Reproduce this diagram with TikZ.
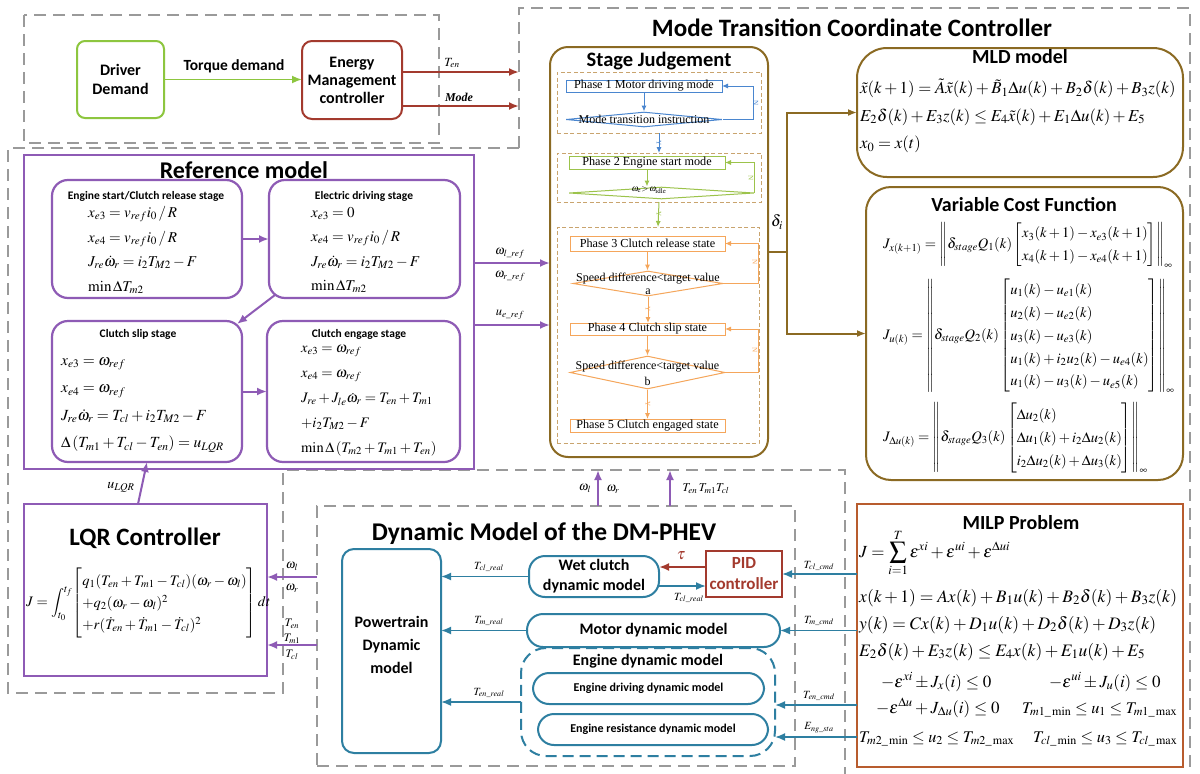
\documentclass[tikz,border=0pt]{standalone}
\usepackage{amsmath}
\usepackage{mathptmx}
\usepackage[no-math]{fontspec}
\setmainfont{Liberation Serif}
\newfontfamily\cf{Carlito}
\usetikzlibrary{arrows.meta,shapes.geometric,fit,calc}
\newcommand\FSz[2]{\fontsize{#1}{#2}\selectfont}
\definecolor{cgreen}{HTML}{8DC63F}
\definecolor{cred}{HTML}{A33A2E}
\definecolor{cpurple}{HTML}{8E5BB5}
\definecolor{cbrown}{HTML}{8B6A23}
\definecolor{cteal}{HTML}{2E7FA1}
\definecolor{cmilp}{HTML}{B85C2E}
\definecolor{cblue}{HTML}{4A86CF}
\definecolor{cphgreen}{HTML}{9CC34B}
\definecolor{cphor}{HTML}{F5A65B}
\definecolor{cdash}{HTML}{9A9A9A}
\definecolor{cgroup}{HTML}{C9A46E}
\tikzset{
 gdash/.style={draw=cdash,line width=1.8pt,dash pattern=on 12pt off 7pt},
 fbox/.style={inner sep=0pt,outer sep=0pt},
 ttl/.style={font=\cf\bfseries\FSz{#1}{#1}, anchor=base, inner sep=0pt},
 sub/.style={font=\cf\bfseries\FSz{11.5}{13}, anchor=base, inner sep=0pt},
 lbl/.style={font=\FSz{12.5}{14}, inner sep=1pt},
 pbox/.style={fbox, draw=cpurple, line width=2.2pt, rounded corners=16pt},
 parrow/.style={draw=cpurple, line width=2pt, -{Latex[length=10pt,width=8pt]}},
 brline/.style={draw=cbrown, line width=2pt},
 brarrow/.style={draw=cbrown, line width=2pt, -{Latex[length=9pt,width=7pt]}},
 tarrow/.style={draw=cteal, line width=1.8pt, -{Latex[length=10pt,width=8pt]}},
 tbox/.style={fbox, draw=cteal, line width=2pt, rounded corners=16pt},
 ttxt/.style={inner sep=0pt, font=\cf\bfseries\FSz{16}{20}, align=center},
 grp/.style={fbox, draw=cgroup, line width=0.9pt, dash pattern=on 4pt off 2.5pt},
 phb/.style={fbox, line width=1pt},
 phtxt/.style={font=\FSz{12.2}{13}, inner sep=0pt},
 dia/.style={diamond, line width=1pt, inner sep=0pt},
 thin/.style={line width=1pt, -{Latex[length=6pt,width=5pt]}},
 yn/.style={font=\FSz{7}{8}, inner sep=0pt, rotate=-90},
 eqs/.style={anchor=west, align=left, inner sep=0pt},
 meq/.style={anchor=base west, inner sep=0pt, font=\FSz{17.5}{20}}
}
\begin{document}
\begin{tikzpicture}[x=1pt,y=-1pt]
\useasboundingbox[fill=white] (0,0) rectangle (1200,774);

% ---------- grey dashed frames ----------
\draw[gdash] (24,15) rectangle (439,143);
\draw[gdash] (519,148) -- (519,8) -- (1190,8) -- (1190,774);
\draw[gdash] (519,148) -- (8,148) -- (8,693) -- (283,693) -- (283,470) -- (845,470) -- (845,774);
\node[fit={(317,506)(795,766)}, fbox, gdash] (DYN) {};

\node[ttl=25] (MTCCt) at (852,36) {Mode Transition Coordinate Controller};

% ---------- driver / EMS ----------
\node[fit={(77,41)(164,118)}, fbox, draw=cgreen, line width=2pt, rounded corners=8pt] (DD) {};
\node[inner sep=0pt, font=\cf\bfseries\FSz{16}{19}, align=center] (DDt) at (DD) {Driver\\Demand};
\node[fit={(302,41)(402,119)}, fbox, draw=cred, line width=2pt, rounded corners=10pt] (EMS) {};
\node[inner sep=0pt, font=\cf\bfseries\FSz{16}{18}, align=center] (EMSt) at (EMS) {Energy\\Management\\controller};
\draw[draw=cgreen, line width=1.8pt, -{Latex[length=10pt,width=8pt]}, fill=cgreen]
     (DD.east) -- (DD.east -| EMS.west);
\node[font=\cf\bfseries\FSz{15.5}{18}] (TQ) at (234,66) {Torque demand};
\coordinate (ten) at (519,72);
\coordinate (tmode) at (519,106);
\draw[draw=cred, line width=2pt, -{Latex[length=10pt,width=8pt]}] (EMS.east |- ten) -- (ten);
\draw[draw=cred, line width=2pt, -{Latex[length=10pt,width=8pt]}] (EMS.east |- tmode) -- (tmode);
\node[lbl] (lten) at (452,63) {$T_{en}$};
\node[font=\bfseries\itshape\FSz{12}{14}] (lmode) at (459,97) {Mode};

% ---------- reference model ----------
\node[fit={(24,155)(474,469)}, fbox, draw=cpurple, line width=2.2pt] (REF) {};
\node[ttl=24] (REFt) at (244,178) {Reference model};
\node[fit={(52,180)(242,298)}, pbox] (S1) {};
\node[fit={(269,180)(460,298)}, pbox] (S2) {};
\node[fit={(52,321)(242,462)}, pbox] (S3) {};
\node[fit={(267,321)(460,462)}, pbox] (S4) {};
\node[sub] (S1t) at (146,199) {Engine start/Clutch release stage};
\node[sub] (S2t) at (364,199) {Electric driving stage};
\node[sub] (S3t) at (138,337) {Clutch slip stage};
\node[sub] (S4t) at (359,337) {Clutch engage stage};
\node[eqs, font=\FSz{15}{24.5}] (S1e) at (88,250) {%
 $x_{e3}=v_{ref}i_0\,/\,R$\\ $x_{e4}=v_{ref}i_0\,/\,R$\\ $J_{re}\dot{\omega}_r=i_2T_{M2}-F$\\ $\min\Delta T_{m2}$};
\node[eqs, font=\FSz{15}{24.5}] (S2e) at (311,250) {%
 $x_{e3}=0$\\ $x_{e4}=v_{ref}i_0\,/\,R$\\ $J_{re}\dot{\omega}_r=i_2T_{M2}-F$\\ $\min\Delta T_{m2}$};
\node[eqs, font=\FSz{15.5}{27.5}] (S3e) at (61,405) {%
 $x_{e3}=\omega_{ref}$\\ $x_{e4}=\omega_{ref}$\\ $J_{re}\dot{\omega}_r=T_{cl}+i_2T_{M2}-F$\\ $\Delta\left(T_{m1}+T_{cl}-T_{en}\right)=u_{LQR}$};
\node[eqs, font=\FSz{14.5}{25}] (S4e) at (301,401) {%
 $x_{e3}=\omega_{ref}$\\ $x_{e4}=\omega_{ref}$\\ $J_{re}+J_{le}\dot{\omega}_r=T_{en}+T_{m1}$\\ $+i_2T_{M2}-F$\\ $\min\Delta\left(T_{m2}+T_{m1}+T_{en}\right)$};
\draw[parrow] (S1.east) -- (S2.west);
\draw[parrow] ($(S2.south west)+(6,-3)$) -- ($(S3.north east)+(-5,3)$);
\draw[parrow] (S3.east) -- (S4.west);

% ---------- LQR ----------
\node[fit={(24,504)(267,676)}, fbox, draw=cpurple, line width=2.2pt] (LQR) {};
\node[ttl=25] (LQRt) at (145,545) {LQR Controller};
\node[anchor=west, inner sep=0pt, font=\FSz{14.5}{17}] (LQRe) at (26,603) {%
 \renewcommand{\arraystretch}{1.3}%
 $\displaystyle J=\int_{t_0}^{t_f}\!\left[\begin{array}{@{}l@{}}
 q_1(T_{en}+T_{m1}-T_{cl})(\omega_r-\omega_l)\\
 +q_2(\omega_r-\omega_l)^2\\
 +r(\dot{T}_{en}+\dot{T}_{m1}-\dot{T}_{cl})^2
 \end{array}\right]dt$};
\draw[parrow] ([xshift=-7.5pt]LQR.north) -- (S3.south);
\node[lbl, font=\FSz{14}{16}] (luq) at (121,487) {$u_{LQR}$};
\coordinate (li1) at (300,577);
\coordinate (li2) at (300,645);
\draw[parrow] (DYN.west |- li1) -- (LQR.east |- li1);
\draw[parrow] (DYN.west |- li2) -- (LQR.east |- li2);
\node[lbl] (lwl) at (292,566) {$\omega_l$};
\node[lbl] (lwr) at (292,588) {$\omega_r$};
\node[lbl, font=\FSz{11.5}{13}] (lte) at (292,624) {$T_{en}$};
\node[lbl, font=\FSz{11.5}{13}] (ltm) at (292,639) {$T_{m1}$};
\node[lbl, font=\FSz{11.5}{13}] (ltc) at (292,655) {$T_{cl}$};

% ---------- reference -> stage judgement ----------
\node[fit={(550,47)(768,457)}, fbox, draw=cbrown, line width=2pt, rounded corners=18pt] (SJ) {};
\coordinate (wref) at (500,263);
\coordinate (uref) at (500,325);
\draw[parrow] (REF.east |- wref) -- (SJ.west |- wref);
\draw[parrow] (REF.east |- uref) -- (SJ.west |- uref);
\node[lbl] (lw1) at (510,253) {$\omega_{l\_ref}$};
\node[lbl] (lw2) at (510,276) {$\omega_{r\_ref}$};
\node[lbl] (lue) at (510,315) {$u_{e\_ref}$};

% ---------- stage judgement ----------
\node[ttl=20.5] (SJt) at (659,66) {Stage Judgement};
\node[fit={(557,72)(761,133)}, grp] (G1) {};
\node[fit={(557,153)(761,202)}, grp] (G2) {};
\node[fit={(557,227)(759,443)}, grp] (G3) {};
\node[fit={(566,80)(722,92)}, phb, draw=cblue] (P1) {};
\node[phtxt] (P1t) at (P1) {Phase 1 Motor driving mode};
\node[dia, draw=cblue, minimum width=156pt, minimum height=15pt] (D1) at (644,119.5) {};
\node[phtxt, font=\FSz{12}{13}] (D1t) at (644,119) {Mode transition instruction};
\draw[thin, draw=cblue] (P1.south) -- (P1.south |- D1.north);
\draw[thin, draw=cblue] (D1.east) -- ++(31,0) |- (P1.east);
\node[yn, text=cblue] (N1) at (756,103) {N};
\draw[thin, draw=cblue] (G1.south) -- (G2.north);
\node[yn, text=cblue] (Y1) at (659,143) {Y};

\node[fit={(569,156)(725,169)}, phb, draw=cphgreen] (P2) {};
\node[phtxt] (P2t) at (P2) {Phase 2 Engine start mode};
\node[dia, draw=cphgreen, minimum width=185pt, minimum height=12pt] (D2) at (661.5,193) {};
\node[inner sep=0pt, font=\FSz{9}{10}] (D2t) at (649,190) {$\omega_{\mathrm{e}}{>}\,\omega_{\mathrm{idle}}$};
\draw[thin, draw=cphgreen] (P2.south) -- (P2.south |- D2.north);
\draw[thin, draw=cphgreen] (D2.east) |- (P2.east);
\node[yn, text=cphgreen] (N2) at (751,178) {N};
\draw[thin, draw=cphgreen] (G2.south) -- (G3.north);
\node[yn, text=cphgreen] (Y2) at (659,214) {Y};

\node[fit={(570,236)(725,251)}, phb, draw=cphor] (P3) {};
\node[phtxt] (P3t) at (P3) {Phase 3 Clutch release state};
\node[dia, draw=cphor, minimum width=150pt, minimum height=25pt] (D3) at (648,283.5) {};
\node[phtxt, font=\FSz{12}{13}] (D3t) at (648,278.5) {Speed difference<target value};
\node[phtxt, font=\FSz{12}{13}] (D3a) at (648,292) {a};
\draw[thin, draw=cphor] (P3.south) -- (P3.south |- D3.north);
\draw[thin, draw=cphor] (D3.east) -- ++(35,0) |- (P3.east);
\node[yn, text=cphor] (N3) at (755,262) {N};
\node[fit={(570,323)(725,335)}, phb, draw=cphor] (P4) {};
\node[phtxt] (P4t) at (P4) {Phase 4 Clutch slip state};
\draw[thin, draw=cphor] (D3.south) -- (D3.south |- P4.north);
\node[yn, text=cphor] (Y3) at (648,309) {Y};
\node[dia, draw=cphor, minimum width=155pt, minimum height=33pt] (D4) at (647.5,372.5) {};
\node[phtxt, font=\FSz{12}{13}] (D4t) at (647.5,366.5) {Speed difference<target value};
\node[phtxt, font=\FSz{12}{13}] (D4b) at (647.5,381) {b};
\draw[thin, draw=cphor] (P4.south) -- (P4.south |- D4.north);
\draw[thin, draw=cphor] (D4.east) -- ++(33,0) |- (P4.east);
\node[yn, text=cphor] (N4) at (755,350) {N};
\node[fit={(570,419)(725,432)}, phb, draw=cphor] (P5) {};
\node[phtxt] (P5t) at (P5) {Phase 5 Clutch engaged state};
\draw[thin, draw=cphor] (D4.south) -- (D4.south |- P5.north);
\node[yn, text=cphor] (Y4) at (648,404) {Y};

% ---------- MLD / VCF ----------
\node[fit={(857,48)(1183,177)}, fbox, draw=cbrown, line width=2pt, rounded corners=30pt] (MLD) {};
\node[ttl=20] (MLDt) at (1020,63) {MLD model};
\node[eqs, font=\FSz{16.8}{27.5}] (MLDe) at (860,116) {%
 $\tilde{x}(k+1)=\tilde{A}\tilde{x}(k)+\tilde{B}_1\Delta u(k)+B_2\delta(k)+B_3z(k)$\\
 $E_2\delta(k)+E_3z(k)\le E_4\tilde{x}(k)+E_1\Delta u(k)+E_5$\\
 $x_0=x(t)$};
\node[fit={(866,187)(1183,480)}, fbox, draw=cbrown, line width=2pt, rounded corners=25pt] (VCF) {};
\node[ttl=20] (VCFt) at (1024,211) {Variable Cost Function};
\node[eqs, font=\FSz{14.5}{17.5}] (VCF1) at (883,245) {%
 \renewcommand{\arraystretch}{1.3}%
 $J_{x(k+1)}=\left\|\delta_{stage}Q_1(k)\left[\begin{array}{@{}l@{}}x_3(k+1)-x_{e3}(k+1)\\ x_4(k+1)-x_{e4}(k+1)\end{array}\right]\right\|_\infty$};
\node[eqs, font=\FSz{14.5}{17.5}] (VCF2) at (883,336) {%
 \renewcommand{\arraystretch}{1.3}%
 $J_{u(k)}=\left\|\delta_{stage}Q_2(k)\left[\begin{array}{@{}l@{}}u_1(k)-u_{e1}(k)\\ u_2(k)-u_{e2}(k)\\ u_3(k)-u_{e3}(k)\\ u_1(k)+i_2u_2(k)-u_{e4}(k)\\ u_1(k)-u_3(k)-u_{e5}(k)\end{array}\right]\right\|_\infty$};
\node[eqs, font=\FSz{14.5}{17.5}] (VCF3) at (883,438) {%
 \renewcommand{\arraystretch}{1.3}%
 $J_{\Delta u(k)}=\left\|\delta_{stage}Q_3(k)\left[\begin{array}{@{}l@{}}\Delta u_2(k)\\ \Delta u_1(k)+i_2\Delta u_2(k)\\ i_2\Delta u_2(k)+\Delta u_3(k)\end{array}\right]\right\|_\infty$};
\coordinate (dj) at (787,252);
\draw[brline] (SJ.east) -- (dj);
\draw[brarrow] (dj) |- (MLD.west);
\draw[brarrow] (dj) |- (VCF.west);
\node[lbl, font=\FSz{16}{18}] (ldel) at (777,222) {$\delta_i$};

% ---------- stage inputs from dynamic model ----------
\coordinate (ua1) at (598,470);
\coordinate (ua2) at (670,470);
\draw[parrow] (DYN.north -| ua1) -- (ua1);
\draw[parrow] (DYN.north -| ua2) -- (ua2);
\node[lbl] (lo1) at (585,488) {$\omega_l$};
\node[lbl] (lo2) at (613,489) {$\omega_r$};
\node[lbl, font=\FSz{12}{14}] (lo3) at (706,489) {$T_{en}\,T_{m1}T_{cl}$};

% ---------- MILP ----------
\node[fit={(857,504)(1183,767)}, fbox, draw=cmilp, line width=2pt] (MILP) {};
\node[ttl=20] (MILPt) at (1021,529) {MILP Problem};
\node[anchor=west, inner sep=0pt, font=\FSz{17}{20}] (M1) at (859,553) {$\displaystyle J=\sum_{i=1}^{T}\varepsilon^{xi}+\varepsilon^{ui}+\varepsilon^{\Delta ui}$};
\node[meq] (M2) at (859,602) {$x(k+1)=Ax(k)+B_1u(k)+B_2\delta(k)+B_3z(k)$};
\node[meq] (M3) at (859,629) {$y(k)=Cx(k)+D_1u(k)+D_2\delta(k)+D_3z(k)$};
\node[meq] (M4) at (859,656) {$E_2\delta(k)+E_3z(k)\le E_4x(k)+E_1u(k)+E_5$};
\node[meq, font=\FSz{17}{20}] (M5a) at (881,687) {$-\varepsilon^{xi}\pm J_x(i)\le 0$};
\node[meq, font=\FSz{17}{20}] (M5b) at (1049,687) {$-\varepsilon^{ui}\pm J_u(i)\le 0$};
\node[meq, font=\FSz{17}{20}] (M6a) at (876,713) {$-\varepsilon^{\Delta u}+J_{\Delta u}(i)\le 0$};
\node[meq, font=\FSz{16.3}{20}] (M6b) at (1022,713) {$T_{m1\_\min}\le u_1\le T_{m1\_\max}$};
\node[meq, font=\FSz{16.3}{20}] (M7a) at (859,742) {$T_{m2\_\min}\le u_2\le T_{m2\_\max}$};
\node[meq, font=\FSz{16.3}{20}] (M7b) at (1033,742) {$T_{cl\_\min}\le u_3\le T_{cl\_\max}$};

% ---------- dynamic model ----------
\node[ttl=25.5] (DYNt) at (544,540) {Dynamic Model of the DM-PHEV};
\node[fit={(342,549)(441,753)}, tbox, rounded corners=12pt] (PT) {};
\node[ttxt, font=\cf\bfseries\FSz{16}{23}] (PTt) at (391.5,645) {Powertrain\\Dynamic\\model};
\node[fit={(529,556)(659,597)}, tbox] (WC) {};
\node[ttxt] (WCt) at (WC) {Wet clutch\\dynamic model};
\node[fit={(706,551)(782,597)}, fbox, draw=cred, line width=2pt] (PID) {};
\node[inner sep=0pt, text=cred, font=\cf\bfseries\FSz{17}{21}, align=center] (PIDt) at (PID) {PID\\controller};
\node[fit={(527,614)(780,647)}, tbox] (MOT) {};
\node[ttxt] (MOTt) at (MOT) {Motor dynamic model};
\node[fit={(521,648)(775,756)}, fbox, draw=cteal, line width=2pt, rounded corners=25pt,
      dash pattern=on 11pt off 6pt] (ENG) {};
\node[ttl=16] (ENGt) at (648,665) {Engine dynamic model};
\node[fit={(533,673)(764,704)}, tbox] (EDR) {};
\node[ttxt, font=\cf\bfseries\FSz{12}{14}] (EDRt) at (EDR) {Engine driving dynamic model};
\node[fit={(538,714)(768,745)}, tbox] (ERS) {};
\node[ttxt, font=\cf\bfseries\FSz{12}{14}] (ERSt) at (ERS) {Engine resistance dynamic model};

\coordinate (tau) at (700,567);
\coordinate (fb) at (700,586);
\coordinate (ter) at (500,702);
\coordinate (tec) at (800,705);
\coordinate (egs) at (800,737);
\draw[draw=cred, line width=2.2pt, -{Latex[length=10pt,width=8pt]}] (PID.west |- tau) -- (WC.east |- tau);
\draw[tarrow] (WC.east |- fb) -- (PID.west |- fb);
\draw[tarrow] (WC.west) -- (WC.west -| PT.east);
\draw[tarrow] (MOT.west) -- (MOT.west -| PT.east);
\draw[tarrow] (ENG.west |- ter) -- (PT.east |- ter);
\draw[tarrow] (MILP.west |- PID.east) -- (PID.east);
\draw[tarrow] (MILP.west |- MOT.east) -- (MOT.east);
\draw[tarrow] (MILP.west |- tec) -- (ENG.east |- tec);
\draw[tarrow] (MILP.west |- egs) -- (ENG.east |- egs);

\node[font=\FSz{16}{18}, text=cred, inner sep=0pt] (ltau) at (681,556) {$\tau$};
\node[lbl, font=\FSz{11}{13}] (lcr1) at (489,567) {$T_{cl\_real}$};
\node[lbl, font=\FSz{11}{13}] (lcr2) at (689,598) {$T_{cl\_real}$};
\node[lbl, font=\FSz{11}{13}] (lmr) at (489,621) {$T_{m\_real}$};
\node[lbl, font=\FSz{11}{13}] (ler) at (489,693) {$T_{en\_real}$};
\node[lbl, font=\FSz{11}{13}] (lcc) at (819,566) {$T_{cl\_cmd}$};
\node[lbl, font=\FSz{11}{13}] (lmc) at (819,621) {$T_{m\_cmd}$};
\node[lbl, font=\FSz{11}{13}] (lec) at (819,696) {$T_{en\_cmd}$};
\node[lbl, font=\FSz{11}{13}] (les) at (819,728) {$E_{ng\_sta}$};
\end{tikzpicture}
\end{document}
